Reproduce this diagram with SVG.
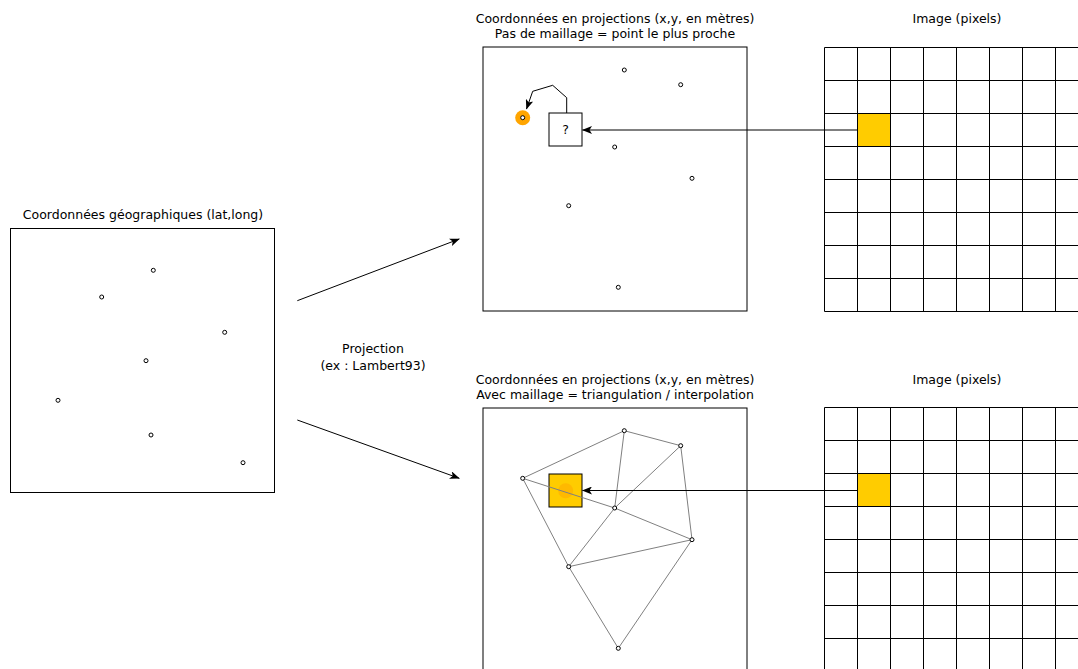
<svg xmlns="http://www.w3.org/2000/svg" width="1078" height="669" viewBox="0 0 1078 669">
<style>
text{font-family:"DejaVu Sans","Liberation Sans",sans-serif;font-size:12.5px;fill:#000;text-anchor:middle}
.box{fill:#fff;stroke:#000;stroke-width:1}
.pt{fill:#fff;stroke:#000;stroke-width:1}
.grid{stroke:#000;stroke-width:1;fill:none}
.tri{stroke:#808080;stroke-width:1;fill:none}
.conn{stroke:#000;stroke-width:1;fill:none}
</style>
<defs>
<marker id="arr" viewBox="0 0 10 8" refX="9.5" refY="4" markerWidth="10" markerHeight="8" markerUnits="userSpaceOnUse" orient="auto">
<path d="M0,0 L10,4 L0,8 L2.5,4 Z" fill="#000"/>
</marker>
</defs>
<rect width="1078" height="669" fill="#fff"/>

<g id="geo">
<text x="143" y="219">Coordonnées géographiques (lat,long)</text>
<rect class="box" x="10.5" y="228.5" width="264" height="264"/>
<circle class="pt" cx="153.3" cy="270.3" r="2"/>
<circle class="pt" cx="101.7" cy="297" r="2"/>
<circle class="pt" cx="224.7" cy="332.3" r="2"/>
<circle class="pt" cx="146" cy="360.7" r="2"/>
<circle class="pt" cx="58" cy="400.3" r="2"/>
<circle class="pt" cx="151" cy="435" r="2"/>
<circle class="pt" cx="243" cy="462.7" r="2"/>
</g>

<g id="projection-label">
<text x="373" y="353">Projection</text>
<text x="373" y="370">(ex : Lambert93)</text>
</g>

<g id="proj-nearest">
<text x="615" y="23">Coordonnées en projections (x,y, en mètres)</text>
<text x="615" y="38">Pas de maillage = point le plus proche</text>
<rect class="box" x="483" y="47" width="264" height="264"/>
<circle cx="522.7" cy="117.7" r="7.5" fill="#FFA500"/>
<circle class="pt" cx="522.7" cy="117.7" r="2"/>
<circle class="pt" cx="624.3" cy="70" r="2"/>
<circle class="pt" cx="680.7" cy="84.7" r="2"/>
<circle class="pt" cx="614.7" cy="147" r="2"/>
<circle class="pt" cx="692" cy="178.3" r="2"/>
<circle class="pt" cx="568.7" cy="205.7" r="2"/>
<circle class="pt" cx="618.3" cy="287.3" r="2"/>
</g>
<g id="question">
<rect class="box" x="549" y="113" width="33" height="33"/>
<text x="565.5" y="134">?</text>
</g>

<g id="proj-interp-frame">
<text x="615" y="384">Coordonnées en projections (x,y, en mètres)</text>
<text x="615" y="399">Avec maillage = triangulation / interpolation</text>
<rect class="box" x="483" y="408" width="264" height="264"/>
</g>
<g id="interp-cell">
<rect x="549" y="474" width="33" height="33" fill="#FFCC00" stroke="#000"/>
<circle cx="565.7" cy="490.7" r="7.5" fill="#FFA500" fill-opacity="0.5"/>
</g>
<g id="proj-interp-mesh">
<g class="tri">
<line x1="522.7" y1="478.3" x2="624.3" y2="430.7"/>
<line x1="624.3" y1="430.7" x2="680.7" y2="445.7"/>
<line x1="624.3" y1="430.7" x2="614.7" y2="508"/>
<line x1="680.7" y1="445.7" x2="614.7" y2="508"/>
<line x1="680.7" y1="445.7" x2="692" y2="539.7"/>
<line x1="522.7" y1="478.3" x2="614.7" y2="508"/>
<line x1="614.7" y1="508" x2="692" y2="539.7"/>
<line x1="522.7" y1="478.3" x2="568.7" y2="566.7"/>
<line x1="614.7" y1="508" x2="568.7" y2="566.7"/>
<line x1="568.7" y1="566.7" x2="692" y2="539.7"/>
<line x1="568.7" y1="566.7" x2="618.3" y2="648.3"/>
<line x1="692" y1="539.7" x2="618.3" y2="648.3"/>
</g>
<circle class="pt" cx="522.7" cy="478.3" r="2"/>
<circle class="pt" cx="624.3" cy="430.7" r="2"/>
<circle class="pt" cx="680.7" cy="445.7" r="2"/>
<circle class="pt" cx="614.7" cy="508" r="2"/>
<circle class="pt" cx="692" cy="539.7" r="2"/>
<circle class="pt" cx="568.7" cy="566.7" r="2"/>
<circle class="pt" cx="618.3" cy="648.3" r="2"/>
</g>

<g id="image-top">
<text x="957" y="23">Image (pixels)</text>
<rect x="824.5" y="47.5" width="264" height="264" fill="#fff"/>
<rect x="857.5" y="113.5" width="33" height="33" fill="#FFCC00"/>
<path class="grid" d="M824.5,47.5V311.5M857.5,47.5V311.5M890.5,47.5V311.5M923.5,47.5V311.5M956.5,47.5V311.5M989.5,47.5V311.5M1022.5,47.5V311.5M1055.5,47.5V311.5M824.5,47.5H1088M824.5,80.5H1088M824.5,113.5H1088M824.5,146.5H1088M824.5,179.5H1088M824.5,212.5H1088M824.5,245.5H1088M824.5,278.5H1088M824.5,311.5H1088"/>
</g>

<g id="image-bottom">
<text x="957" y="384">Image (pixels)</text>
<rect x="824.5" y="407.5" width="264" height="264" fill="#fff"/>
<rect x="857.5" y="473.5" width="33" height="33" fill="#FFCC00"/>
<path class="grid" d="M824.5,407.5V672M857.5,407.5V672M890.5,407.5V672M923.5,407.5V672M956.5,407.5V672M989.5,407.5V672M1022.5,407.5V672M1055.5,407.5V672M824.5,407.5H1088M824.5,440.5H1088M824.5,473.5H1088M824.5,506.5H1088M824.5,539.5H1088M824.5,572.5H1088M824.5,605.5H1088M824.5,638.5H1088"/>
</g>

<g id="connectors">
<line class="conn" x1="297.3" y1="300.7" x2="459.3" y2="239" marker-end="url(#arr)"/>
<line class="conn" x1="297.3" y1="420" x2="459.3" y2="478.3" marker-end="url(#arr)"/>
<line class="conn" x1="857.5" y1="130" x2="582.5" y2="130" marker-end="url(#arr)"/>
<line class="conn" x1="857.5" y1="490.5" x2="582.5" y2="490.5" marker-end="url(#arr)"/>
<polyline class="conn" points="566.7,113 566.7,97.7 552.7,85.3 532.7,91.3 526.5,109" marker-end="url(#arr)"/>
</g>
</svg>
